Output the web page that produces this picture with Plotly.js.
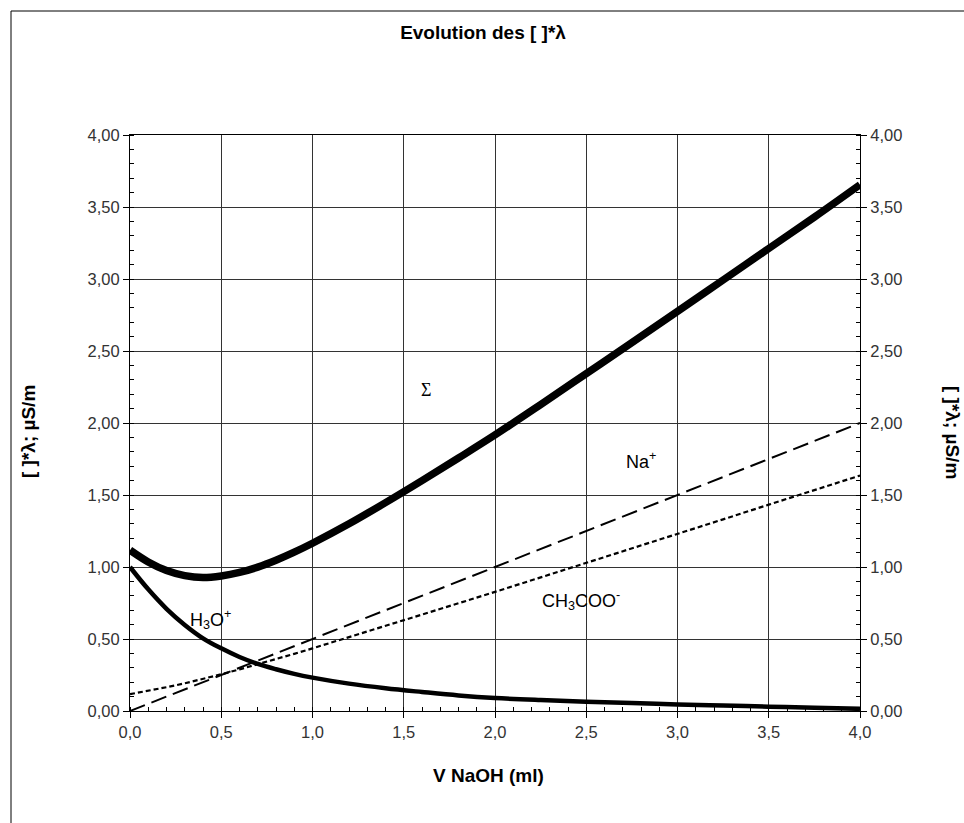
<!DOCTYPE html>
<html>
<head>
<meta charset="utf-8">
<script src="https://cdn.plot.ly/plotly-3.0.1.min.js"></script>
<style>
  html, body { margin: 0; padding: 0; background: #fff; }
  #chart { width: 964px; height: 823px; }
</style>
</head>
<body>
<div id="chart"></div>
<script>
// V NaOH (ml)
const vNaOH = [0, 0.1, 0.2, 0.3, 0.4, 0.5, 0.6, 0.7, 0.8, 0.9, 1.0, 1.2, 1.4, 1.6, 1.8, 2.0, 2.25, 2.5, 2.75, 3.0, 3.25, 3.5, 3.75, 4.0];
// [ ]*λ values
const sigma = [1.117, 1.035, 0.975, 0.940, 0.927, 0.938, 0.962, 0.999, 1.047, 1.103, 1.165, 1.300, 1.447, 1.600, 1.757, 1.917, 2.128, 2.343, 2.558, 2.775, 2.993, 3.212, 3.430, 3.655];
const h3o = [1.000, 0.845, 0.710, 0.598, 0.505, 0.435, 0.375, 0.327, 0.290, 0.258, 0.232, 0.190, 0.158, 0.132, 0.108, 0.090, 0.076, 0.065, 0.055, 0.046, 0.038, 0.030, 0.022, 0.015];
const na = [0, 0.05, 0.10, 0.15, 0.20, 0.25, 0.30, 0.35, 0.40, 0.45, 0.50, 0.60, 0.70, 0.80, 0.90, 1.00, 1.125, 1.25, 1.375, 1.50, 1.625, 1.75, 1.875, 2.00];
const ch3coo = [0.117, 0.140, 0.165, 0.192, 0.222, 0.255, 0.289, 0.324, 0.360, 0.397, 0.435, 0.512, 0.589, 0.668, 0.748, 0.827, 0.927, 1.028, 1.128, 1.229, 1.331, 1.433, 1.534, 1.635];

const titleText = "Evolution des [ ]*λ";
const xTitle = "V NaOH (ml)";
const yTitle = "[ ]*λ; µS/m";

const traces = [
  { x: vNaOH, y: na, mode: "lines", line: { color: "#000", width: 2, dash: "16px,7px" }, hoverinfo: "skip" },
  { x: vNaOH, y: ch3coo, mode: "lines", line: { color: "#000", width: 2.2, dash: "5px,3px" }, hoverinfo: "skip" },
  { x: vNaOH, y: h3o, mode: "lines", line: { color: "#000", width: 4.5, shape: "spline", smoothing: 1 }, hoverinfo: "skip" },
  { x: vNaOH, y: sigma, mode: "lines", line: { color: "#000", width: 7.5, shape: "spline", smoothing: 1 }, hoverinfo: "skip" },
  { x: vNaOH, y: na, yaxis: "y2", mode: "lines", opacity: 0, line: { width: 0 }, hoverinfo: "skip" }
];

const tickFont = { family: "Liberation Sans, Arial, sans-serif", size: 16.5, color: "#333" };
const axTitleFont = { family: "Liberation Sans, Arial, sans-serif", size: 19, color: "#000" };
const labelFont = { family: "Liberation Sans, Arial, sans-serif", size: 18, color: "#000" };

const yCommon = {
  range: [0, 4],
  dtick: 0.5,
  tick0: 0,
  tickformat: ".2f",
  ticks: "outside",
  ticklen: 6,
  tickcolor: "#000",
  tickfont: tickFont,
  showline: true,
  linecolor: "#000",
  linewidth: 1,
  zeroline: false,
  minor: { dtick: 0.1, ticks: "inside", ticklen: 4, tickcolor: "#000", showgrid: false }
};

const layout = {
  width: 964,
  height: 823,
  margin: { l: 130, r: 104, t: 135, b: 112 },
  paper_bgcolor: "#fff",
  plot_bgcolor: "#fff",
  separators: ", ",
  showlegend: false,
  title: {
    text: "<b>" + titleText + "</b>",
    font: { family: "Liberation Sans, Arial, sans-serif", size: 19, color: "#000" },
    x: 483 / 964, xref: "container", xanchor: "center",
    y: 1 - 32 / 823, yref: "container", yanchor: "middle"
  },
  xaxis: {
    range: [0, 4],
    dtick: 0.5,
    tick0: 0,
    tickformat: ".1f",
    ticks: "outside",
    ticklen: 6,
    tickcolor: "#000",
    tickfont: tickFont,
    showline: true,
    linecolor: "#000",
    linewidth: 1,
    mirror: true,
    showgrid: true,
    gridcolor: "#333",
    gridwidth: 1,
    zeroline: false,
    minor: { dtick: 0.1, ticks: "inside", ticklen: 4, tickcolor: "#000", showgrid: false }
  },
  yaxis: Object.assign({}, yCommon, {
    showgrid: true,
    gridcolor: "#333",
    gridwidth: 1
  }),
  yaxis2: Object.assign({}, yCommon, {
    overlaying: "y",
    side: "right",
    showgrid: false
  }),
  annotations: [
    { x: 1.62, y: 2.23, xref: "x", yref: "y", text: "Σ", showarrow: false,
      font: { family: "Liberation Serif, Times New Roman, serif", size: 18, color: "#000" } },
    { x: 2.8, y: 1.74, xref: "x", yref: "y", text: "Na<sup>+</sup>", showarrow: false, font: labelFont },
    { x: 2.47, y: 0.77, xref: "x", yref: "y", text: "CH<sub>3</sub>COO<sup>-</sup>", showarrow: false, font: labelFont },
    { x: 0.44, y: 0.635, xref: "x", yref: "y", text: "H<sub>3</sub>O<sup>+</sup>", showarrow: false, font: labelFont },
    { x: (488 - 130) / 730, y: (711 - 775) / 576, xref: "paper", yref: "paper",
      text: "<b>" + xTitle + "</b>", showarrow: false,
      xanchor: "center", yanchor: "middle", font: axTitleFont },
    { x: (28 - 130) / 730, y: (711 - 432) / 576, xref: "paper", yref: "paper",
      text: "<b>" + yTitle + "</b>", textangle: -90, showarrow: false,
      xanchor: "center", yanchor: "middle", font: axTitleFont },
    { x: (953 - 130) / 730, y: (711 - 432) / 576, xref: "paper", yref: "paper",
      text: "<b>" + yTitle + "</b>", textangle: 90, showarrow: false,
      xanchor: "center", yanchor: "middle", font: axTitleFont }
  ],
  shapes: [
    { type: "line", xref: "paper", yref: "paper",
      x0: (11 - 130) / 730, x1: (11 - 130) / 730, y0: (711 - 11) / 576, y1: (711 - 840) / 576,
      line: { color: "#000", width: 1 } },
    { type: "line", xref: "paper", yref: "paper",
      x0: (11 - 130) / 730, x1: (980 - 130) / 730, y0: (711 - 11) / 576, y1: (711 - 11) / 576,
      line: { color: "#000", width: 1 } }
  ]
};

Plotly.newPlot("chart", traces, layout, { displayModeBar: false, staticPlot: true });
</script>
</body>
</html>
